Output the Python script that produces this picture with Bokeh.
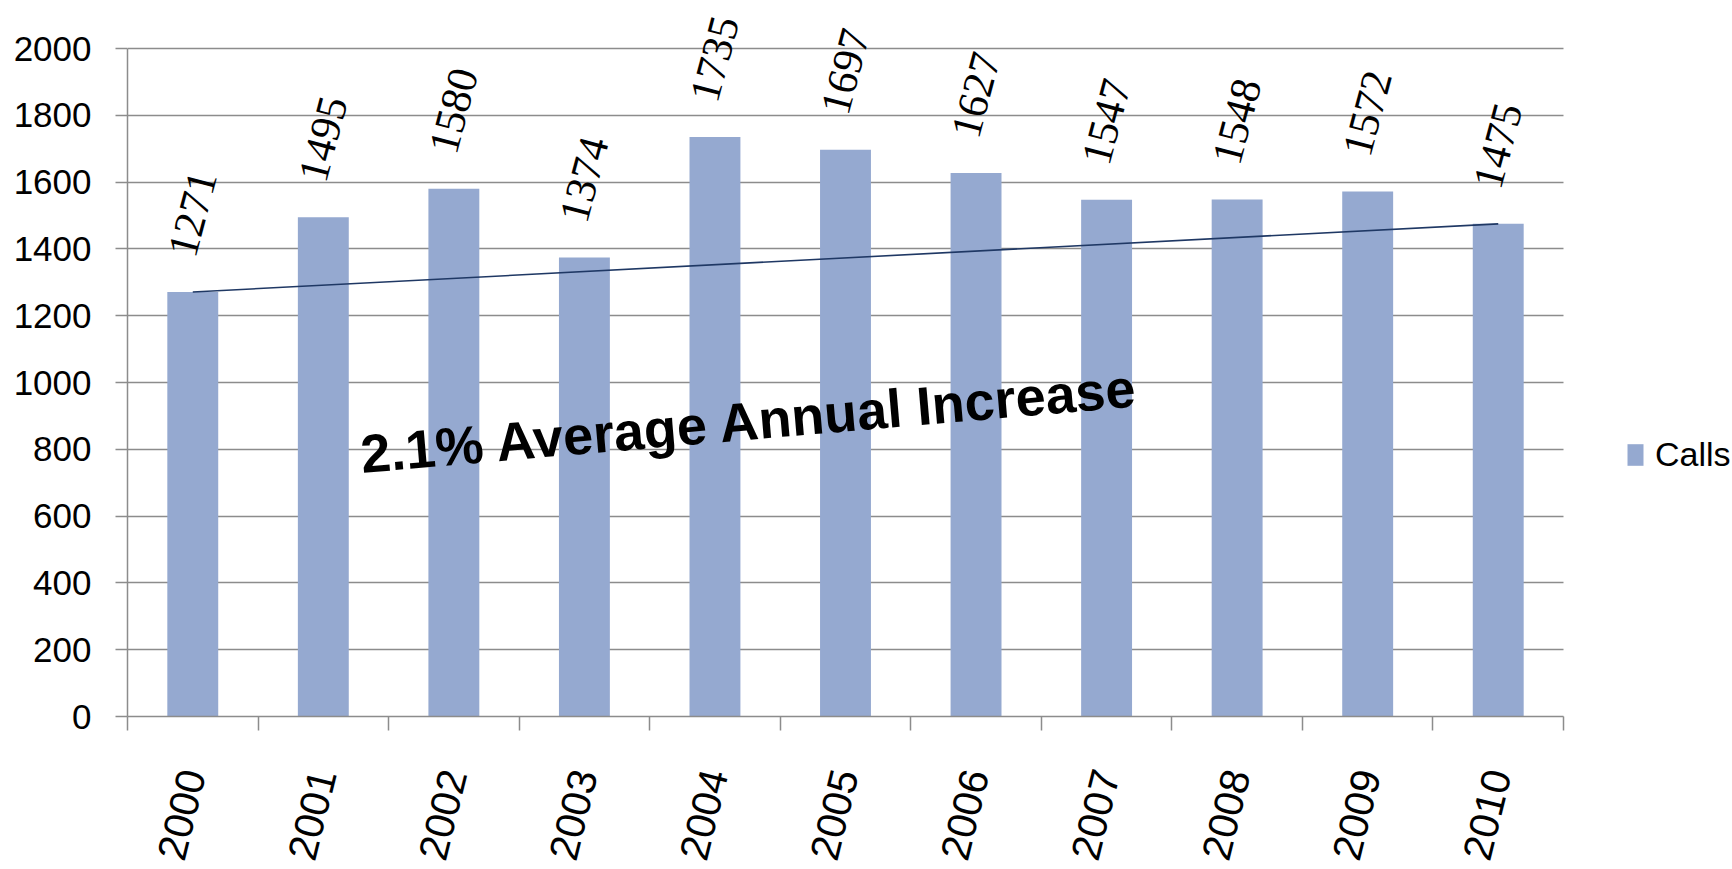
import math
from bokeh.plotting import figure
from bokeh.models import (ColumnDataSource, LabelSet, Label, Legend, LegendItem,
                          FixedTicker, Range1d)
from bokeh.embed import file_html
from bokeh.resources import INLINE

# ---- data ----
years = ["2000", "2001", "2002", "2003", "2004", "2005",
         "2006", "2007", "2008", "2009", "2010"]
calls = [1271, 1495, 1580, 1374, 1735, 1697, 1627, 1547, 1548, 1572, 1475]
y_ticks = [0, 200, 400, 600, 800, 1000, 1200, 1400, 1600, 1800, 2000]
trend_years = ["2000", "2010"]
trend_values = [1271, 1475]
series_name = "Calls"
annotation_text = "2.1% Average Annual Increase"

# ---- styles / layout ----
BAR = "#95A9D0"
GRID = "#8C8C8C"
TREND = "#1F3864"
FONT = "Liberation Sans"
W, H = 1732, 869
LEFT, TOP_PLOT, BOTTOM_PLOT, RIGHT_PLOT = 127, 48, 716, 1563

n = len(years)
cat_px = (RIGHT_PLOT - LEFT) / n
x_end = (W - LEFT) / cat_px
y_end = y_ticks[-1] * (BOTTOM_PLOT) / (BOTTOM_PLOT - TOP_PLOT)

xpos = [years.index(y) + 0.5 for y in years]
src = ColumnDataSource(dict(x=xpos, calls=calls, label=[str(c) for c in calls]))

p = figure(width=W, height=H,
           x_range=Range1d(0, x_end), y_range=Range1d(0, y_end),
           output_backend="svg", toolbar_location=None,
           min_border_left=LEFT, min_border_top=0,
           min_border_right=0, min_border_bottom=H - BOTTOM_PLOT)
p.outline_line_color = None
p.background_fill_color = "white"

bars = p.vbar(x="x", top="calls", width=0.39, source=src,
              fill_color=BAR, line_color=None)

tx = [years.index(y) + 0.5 for y in trend_years]
p.line(x=tx, y=trend_values, line_color=TREND, line_width=1.6)

# x axis: labels at category centres, ticks at category boundaries
p.xaxis.bounds = (0, n)
p.xaxis.ticker = FixedTicker(ticks=xpos, minor_ticks=list(range(n + 1)))
p.xaxis.major_label_overrides = {x: y for x, y in zip(xpos, years)}
p.xaxis.major_tick_line_color = None
p.xaxis.major_tick_out = 0
p.xaxis.major_tick_in = 0
p.xaxis.minor_tick_out = 14
p.xaxis.minor_tick_in = 0
p.xaxis.minor_tick_line_color = GRID
p.xaxis.minor_tick_line_width = 1.5
p.xaxis.axis_line_color = GRID
p.xaxis.axis_line_width = 1.5
p.xaxis.major_label_orientation = math.radians(76)
p.xaxis.major_label_standoff = 40
p.xaxis.major_label_text_font = FONT
p.xaxis.major_label_text_font_size = "41px"
p.xaxis.major_label_text_color = "black"
p.xgrid.grid_line_color = None

# y axis
p.yaxis.bounds = (y_ticks[0], y_ticks[-1])
p.yaxis.ticker = FixedTicker(ticks=y_ticks)
p.yaxis.major_tick_out = 12
p.yaxis.major_tick_in = 0
p.yaxis.minor_tick_line_color = None
p.yaxis.major_tick_line_color = GRID
p.yaxis.major_tick_line_width = 1.5
p.yaxis.axis_line_color = GRID
p.yaxis.axis_line_width = 1.5
p.yaxis.major_label_standoff = 24
p.yaxis.major_label_text_font = FONT
p.yaxis.major_label_text_font_size = "35px"
p.yaxis.major_label_text_color = "black"
p.ygrid.grid_line_color = GRID
p.ygrid.grid_line_width = 1.5
p.ygrid.bounds = (y_ticks[0], y_ticks[-1])
p.ygrid.cross_bounds = (0, n)

# data labels
labels = LabelSet(x="x", y="calls", text="label", source=src,
                  angle=math.radians(75), text_align="center",
                  text_baseline="middle", y_offset=78,
                  text_font=FONT, text_font_size="43px", text_color="black")
p.add_layout(labels)

# annotation
ann = Label(x=1.785, y=786, text=annotation_text, angle=math.radians(4.9),
            text_align="left", text_baseline="alphabetic",
            text_font=FONT, text_font_size="54px", text_font_style="bold",
            text_color="black")
p.add_layout(ann)

legend = Legend(items=[LegendItem(label=series_name, renderers=[bars])],
                location=(1498, 242), glyph_width=20, glyph_height=27,
                label_text_font=FONT, label_text_font_size="34px",
                label_text_color="black",
                padding=0, margin=0, border_line_color=None,
                background_fill_alpha=0, label_standoff=10)
p.add_layout(legend)

open("out.html", "w").write(file_html(p, INLINE))
